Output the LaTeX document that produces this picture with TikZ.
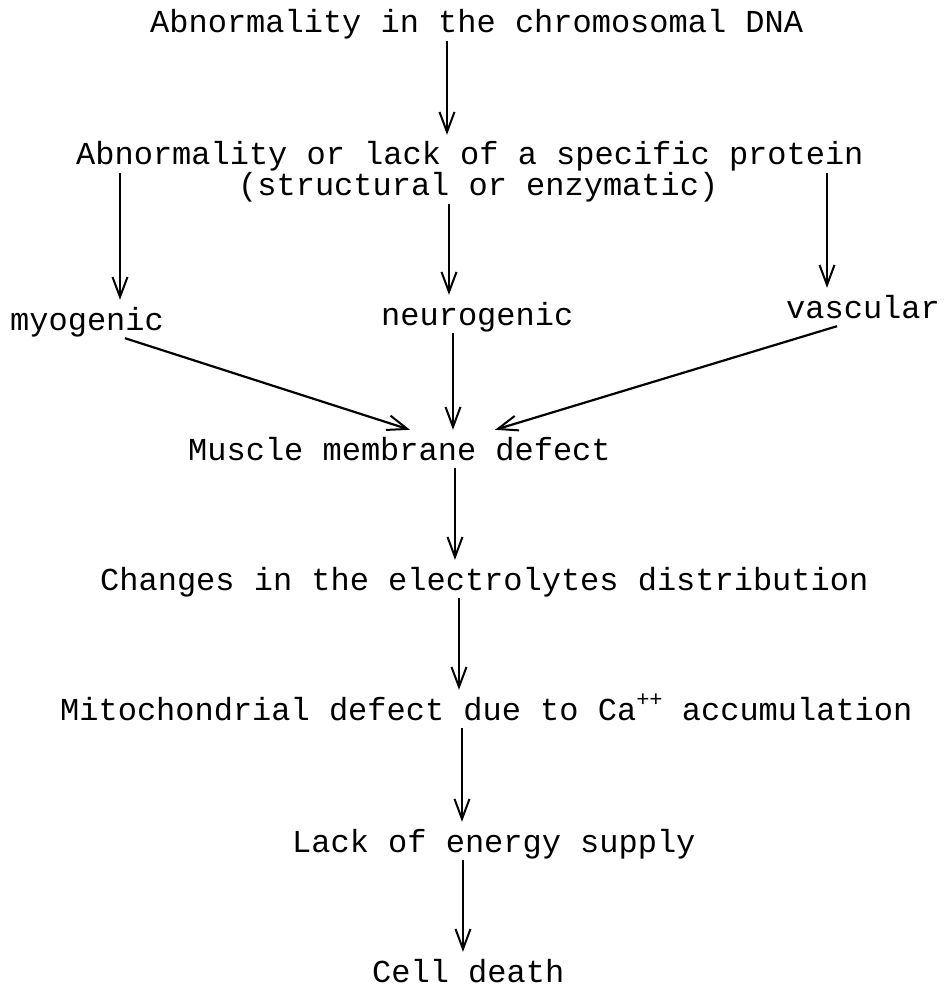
\documentclass[tikz,border=0pt]{standalone}
\usepackage{fontspec}
\setmainfont{Liberation Mono}
\usetikzlibrary{arrows.meta}
\begin{document}
\begin{tikzpicture}[
      x=1pt, y=-1pt,
      every node/.style={font=\fontsize{32}{36}\selectfont, inner sep=2pt,
        text height=28pt, text depth=6pt, anchor=base west},
      arr/.style={line width=2.2pt, -{Straight Barb[length=20pt,width=15pt,line width=2pt]}}
      ]
      \useasboundingbox (0,0) rectangle (947,987);
      \node (dna)   at (148,33)  {Abnormality in the chromosomal DNA};
      \node (prot)  at (74,165)  {Abnormality or lack of a specific protein};
      \node (kind)  at (236,196) {(structural or enzymatic)};
      \node (myo)   at (8,330)   {myogenic};
      \node (neuro) at (379,325) {neurogenic};
      \node (vasc)  at (784,318) {vascular};
      \node (mmd)   at (186,460) {Muscle membrane defect};
      \node (elec)  at (98,590)  {Changes in the electrolytes distribution};
      \node (mito)  at (58,720)  {Mitochondrial defect due to Ca\raisebox{14pt}{\fontsize{22}{24}\selectfont ++} accumulation};
      \node (lack)  at (290,852) {Lack of energy supply};
      \node (death) at (370,982) {Cell death};
      % arrows
      \draw[arr] (dna.south -| 447,0) -- (prot.north -| 447,0);
      \draw[arr] (prot.south -| 120,0) -- (myo.north -| 120,0);
      \draw[arr] (kind.south -| 449,0) -- (neuro.north -| 449,0);
      \draw[arr] (prot.south -| 827,0) -- (vasc.north -| 827,0);
      \draw[arr] (myo.south -| 125,0) -- (mmd.north -| 410,0);
      \draw[arr] (neuro.south -| 453,0) -- (mmd.north -| 453,0);
      \draw[arr] (vasc.south -| 837,0) -- (mmd.north -| 495,0);
      \draw[arr] (mmd.south -| 455,0) -- (elec.north -| 455,0);
      \draw[arr] (elec.south -| 459,0) -- (mito.north -| 459,0);
      \draw[arr] (mito.south -| 462,0) -- (lack.north -| 462,0);
      \draw[arr] (lack.south -| 463,0) -- (death.north -| 463,0);
\end{tikzpicture}
\end{document}
